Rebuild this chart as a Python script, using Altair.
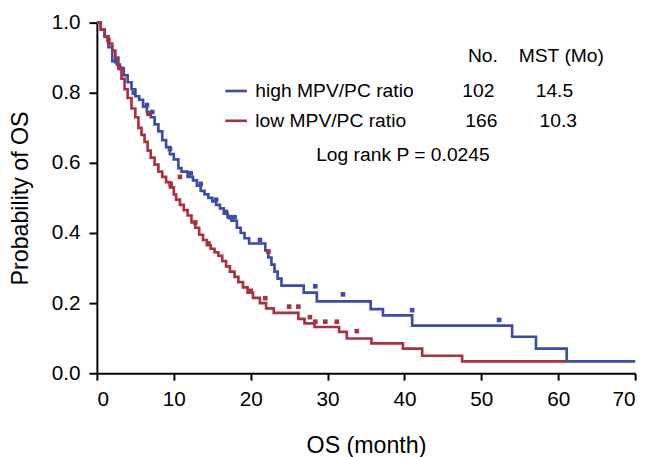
import altair as alt
import pandas as pd

# ---- Kaplan-Meier step data (time in months, survival probability) ----
high_t = [0, 0.5, 1.0, 1.5, 2.0, 2.6, 3.0, 3.5, 4.0, 4.5, 5.0, 5.5, 6.0, 6.5, 7.0, 7.5,
          8.0, 8.5, 9.0, 9.5, 10.0, 10.6, 11.0, 11.8, 12.5, 13.0, 13.5, 14.0, 14.5, 15.0,
          15.5, 16.0, 16.5, 17.0, 17.5, 18.2, 18.7, 19.2, 19.8, 21.9, 22.3, 22.7, 23.1,
          23.5, 24.0, 26.9, 28.6, 35.6, 37.2, 41.0, 54.0, 57.1, 61.1, 70.0]
high_s = [1.0, 0.98, 0.96, 0.93, 0.89, 0.88, 0.87, 0.85, 0.83, 0.81, 0.79, 0.78, 0.76,
          0.745, 0.73, 0.71, 0.69, 0.665, 0.645, 0.625, 0.61, 0.585, 0.575, 0.56, 0.55,
          0.535, 0.52, 0.51, 0.50, 0.49, 0.48, 0.47, 0.455, 0.445, 0.435, 0.415, 0.40,
          0.385, 0.37, 0.35, 0.33, 0.31, 0.29, 0.27, 0.25, 0.23, 0.205, 0.183, 0.165,
          0.136, 0.104, 0.07, 0.034, 0.034]

low_t = [0, 0.5, 1.0, 1.5, 2.0, 2.4, 2.8, 3.2, 3.6, 4.0, 4.5, 5.0, 5.4, 5.8, 6.2, 6.6,
         7.0, 7.5, 8.0, 8.5, 9.0, 9.5, 10.0, 10.3, 10.8, 11.3, 11.8, 12.3, 12.8, 13.3,
         13.8, 14.3, 14.8, 15.3, 15.8, 16.3, 16.8, 17.3, 17.9, 18.4, 19.0, 19.6, 20.3,
         21.2, 22.0, 23.0, 26.2, 27.0, 28.3, 31.5, 32.5, 35.7, 39.8, 42.3, 47.5, 61.0]
low_s = [1.0, 0.98, 0.96, 0.94, 0.92, 0.90, 0.87, 0.84, 0.81, 0.785, 0.755, 0.73, 0.70,
         0.68, 0.66, 0.635, 0.615, 0.595, 0.575, 0.56, 0.545, 0.53, 0.51, 0.495, 0.48,
         0.465, 0.45, 0.43, 0.415, 0.395, 0.38, 0.365, 0.355, 0.345, 0.335, 0.32, 0.305,
         0.29, 0.275, 0.26, 0.245, 0.23, 0.215, 0.20, 0.185, 0.172, 0.155, 0.142, 0.132,
         0.118, 0.099, 0.085, 0.07, 0.05, 0.034, 0.034]

# ---- censor marks ----
high_ct = [2.5, 4.8, 6.5, 7.2, 9.5, 12.2, 13.5, 15.5, 16.8, 17.3, 17.9, 21.2, 28.4, 32.0, 41.0, 52.3]
high_cs = [0.89, 0.80, 0.765, 0.745, 0.64, 0.57, 0.54, 0.495, 0.46, 0.445, 0.445, 0.38, 0.248, 0.225, 0.18, 0.152]
low_ct = [1.5, 3.0, 6.7, 9.6, 10.8, 12.8, 14.5, 20.0, 21.9, 22.3, 25.0, 26.2, 27.7, 28.4, 29.7, 31.2, 33.8]
low_cs = [0.95, 0.87, 0.74, 0.54, 0.56, 0.43, 0.37, 0.235, 0.214, 0.347, 0.19, 0.19, 0.16, 0.147, 0.147, 0.147, 0.12]

groups = ["high MPV/PC ratio", "low MPV/PC ratio"]
colors = ["#3d4ca8", "#a8333f"]
n_vals = ["102", "166"]
mst_vals = ["14.5", "10.3"]

curve_df = pd.concat([
    pd.DataFrame({"t": high_t, "s": high_s, "g": groups[0]}),
    pd.DataFrame({"t": low_t, "s": low_s, "g": groups[1]}),
])
cens_df = pd.concat([
    pd.DataFrame({"t": high_ct, "s": high_cs, "g": groups[0]}),
    pd.DataFrame({"t": low_ct, "s": low_cs, "g": groups[1]}),
])

FONT = "Liberation Sans"
xs = alt.Scale(domain=[0, 70], nice=False)
ys = alt.Scale(domain=[0, 1], nice=False)
cs = alt.Scale(domain=groups, range=colors)

xaxis = alt.Axis(values=list(range(0, 71, 10)), grid=False, domainColor="black",
                 domainWidth=2, tickColor="black", tickWidth=2, tickSize=7,
                 labelFontSize=21, labelFont=FONT, labelColor="black", labelPadding=9,
                 title="OS (month)", titleFont=FONT, titleFontSize=23.5,
                 titleFontWeight="normal", titleColor="black", titlePadding=24)
yaxis = alt.Axis(values=[round(i * 0.1, 1) for i in range(11)], grid=False,
                 domainColor="black", domainWidth=2, tickColor="black", tickWidth=2,
                 tickSize=8, labelFontSize=21, labelFont=FONT, labelColor="black",
                 labelPadding=9,
                 labelExpr="round(datum.value*10) % 2 == 0 ? format(datum.value, '.1f') : ''",
                 title="Probability of OS", titleFont=FONT, titleFontSize=23.5,
                 titleFontWeight="normal", titleColor="black", titlePadding=19)

lines = alt.Chart(curve_df).mark_line(interpolate="step-after", strokeWidth=2.7).encode(
    x=alt.X("t:Q", scale=xs, axis=xaxis),
    y=alt.Y("s:Q", scale=ys, axis=yaxis),
    color=alt.Color("g:N", scale=cs, legend=None),
    detail="g:N",
)
cens = alt.Chart(cens_df).mark_square(size=22, opacity=1).encode(
    x=alt.X("t:Q", scale=xs), y=alt.Y("s:Q", scale=ys),
    color=alt.Color("g:N", scale=cs, legend=None),
)

# ---- legend / annotation block ----
leg_line_df = pd.DataFrame({"t": [16.7, 16.7], "t2": [19.5, 19.5], "s": [0.805, 0.72], "g": groups})
leg_lines = alt.Chart(leg_line_df).mark_rule(strokeWidth=2.7).encode(
    x=alt.X("t:Q", scale=xs), x2="t2:Q", y=alt.Y("s:Q", scale=ys),
    color=alt.Color("g:N", scale=cs, legend=None),
)
leg_lab_df = pd.DataFrame({"t": [20.6, 20.6], "s": [0.805, 0.72], "txt": groups})
leg_labels = alt.Chart(leg_lab_df).mark_text(align="left", baseline="middle", fontSize=19.5,
                                             font=FONT, color="black").encode(
    x=alt.X("t:Q", scale=xs), y=alt.Y("s:Q", scale=ys), text="txt:N")

tab_df = pd.DataFrame({
    "t": [50.2, 60.4, 49.6, 59.5, 50.0, 60.0, 39.8],
    "s": [0.905, 0.905, 0.805, 0.805, 0.72, 0.72, 0.622],
    "txt": ["No.", "MST (Mo)", n_vals[0], mst_vals[0], n_vals[1], mst_vals[1],
            "Log rank P = 0.0245"],
})
tab_text = alt.Chart(tab_df).mark_text(align="center", baseline="middle", fontSize=19.5,
                                       font=FONT, color="black").encode(
    x=alt.X("t:Q", scale=xs), y=alt.Y("s:Q", scale=ys), text="txt:N")

chart = alt.layer(lines, cens, leg_lines, leg_labels, tab_text).properties(
    width=545, height=355,
    autosize=alt.AutoSizeParams(type="none"),
    padding={"left": 90, "top": 12, "right": 13, "bottom": 82},
).configure_view(stroke=None)

chart.save("out.html", embed_options={"renderer": "svg", "actions": False})
